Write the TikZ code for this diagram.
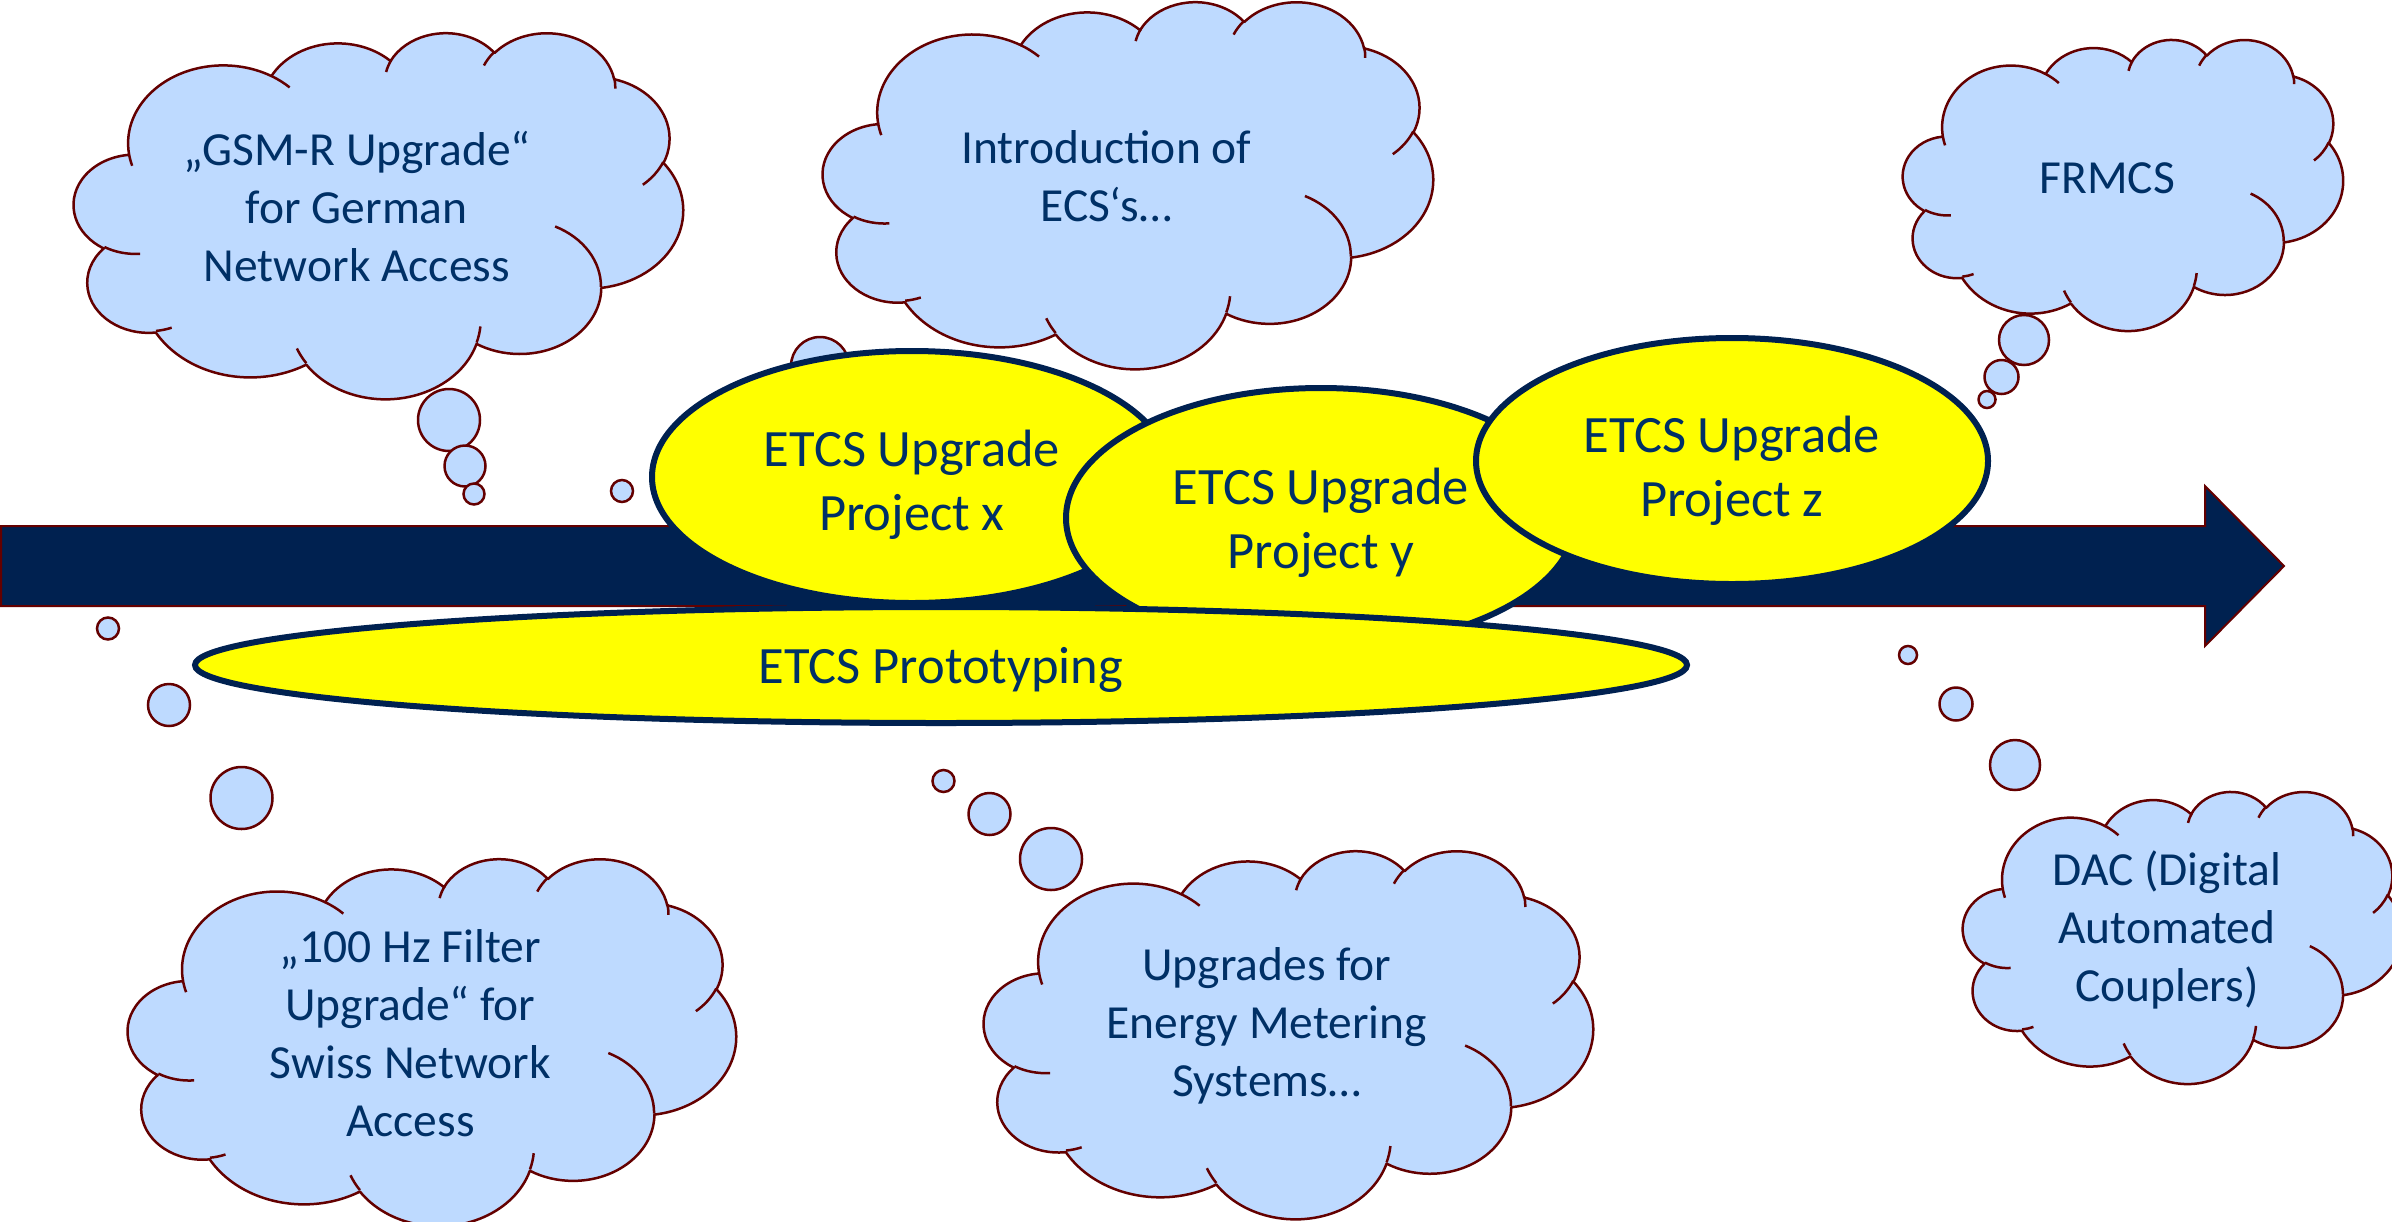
\documentclass[tikz,border=0pt]{standalone}
\usepackage{fontspec}
\setmainfont{Carlito}
\usetikzlibrary{shapes.geometric}
\definecolor{txtblue}{RGB}{0,48,102}
\definecolor{navy}{RGB}{0,33,80}
\definecolor{maroon}{RGB}{100,0,0}
\definecolor{cloudblue}{RGB}{190,218,255}
\definecolor{etcsyellow}{RGB}{255,255,0}

% PowerPoint cloud geometry (43200 units -> 43.2), visual angles converted to parametric
\newcommand\cloudpath{}
\newcommand\creasepath{}
\newcommand\myarccalc[4]{%
  \pgfmathsetmacro\myts{atan2((#1)*sin(#3),(#2)*cos(#3))}%
  \pgfmathsetmacro\myte{atan2((#1)*sin((#3)+(#4)),(#2)*cos((#3)+(#4)))}%
  \pgfmathsetmacro\mydd{\myte-\myts}%
  \pgfmathsetmacro\mydd{\mydd-360*round((\mydd-(#4))/360)}%
}
\newcommand\addarc[4]{%
  \myarccalc{#1}{#2}{#3}{#4}%
  \xdef\cloudpath{\cloudpath arc[x radius=#1,y radius=#2,start angle=\myts,delta angle=\mydd]}%
}
\newcommand\addcrease[6]{%
  \myarccalc{#3}{#4}{#5}{#6}%
  \xdef\creasepath{\creasepath (#1,#2) arc[x radius=#3,y radius=#4,start angle=\myts,delta angle=\mydd]}%
}
\addarc{6.753}{9.190}{-190.4875}{123.7805}
\addarc{5.333}{7.267}{-144.1024}{89.9452}
\addarc{4.365}{5.945}{-145.8079}{99.7230}
\addarc{4.857}{6.595}{-130.9861}{117.2417}
\addarc{5.333}{7.273}{-78.7089}{109.0269}
\addarc{6.775}{9.220}{-46.2673}{130.2690}
\addarc{5.785}{7.867}{0.6250}{114.0333}
\addarc{6.752}{9.215}{22.4516}{115.1726}
\addarc{7.720}{10.543}{66.2426}{75.7110}
\addarc{4.360}{5.918}{-274.9421}{146.7356}
\addarc{4.345}{5.945}{-246.8285}{152.5189}
\addcrease{4.693}{26.177}{4.345}{5.945}{86.7420}{26.4295}
\addcrease{6.928}{34.899}{4.360}{5.918}{73.6105}{11.4475}
\addcrease{16.478}{39.090}{6.752}{9.215}{137.6242}{14.0811}
\addcrease{28.827}{34.751}{6.752}{9.215}{6.4533}{15.9984}
\addcrease{34.129}{22.954}{5.785}{7.867}{-70.2924}{70.9174}
\addcrease{41.798}{15.354}{5.333}{7.273}{30.3180}{27.7515}
\addcrease{38.324}{5.426}{4.857}{6.595}{-13.7443}{14.8589}
\addcrease{29.078}{3.952}{4.857}{6.595}{-149.1815}{18.1954}
\addcrease{22.141}{4.720}{4.365}{5.945}{-163.4943}{17.6864}
\addcrease{14.000}{5.192}{6.753}{9.190}{-66.7070}{12.3194}
\addcrease{4.127}{15.789}{6.753}{9.190}{157.6544}{11.8582}

\newcommand\pcloud[6]{%
  \begin{scope}[shift={(#2,#3)}, xscale=#4/43.2, yscale=#5/43.2]
    \path[cloudshape] (3.900,14.370) \cloudpath -- cycle;
    \path[crease] \creasepath;
  \end{scope}
  \node[cloudtext] (#1) at ({#2+0.4644*#4},{#3+0.4768*#5}) {#6};
}

\begin{document}
\begin{tikzpicture}[x=1pt,y=1pt,yscale=-1,
  cloudshape/.style={fill=cloudblue, draw=maroon, line width=2.5pt, line join=round},
  crease/.style={draw=maroon, line width=2.5pt},
  bubble/.style={fill=cloudblue, draw=maroon, line width=2.5pt},
  cloudtext/.style={text=txtblue, align=center, inner sep=0pt, font=\fontsize{47.5}{58}\selectfont},
  etcs/.style={ellipse, draw=navy, line width=6pt, fill=etcsyellow, inner sep=0pt},
  etcstext/.style={text=txtblue, align=center, inner sep=0pt, font=\fontsize{52.5}{64}\selectfont},
  timeline/.style={fill=navy, draw=maroon, line width=2pt, line join=miter}]
\useasboundingbox (0,0) rectangle (2392,1221);
\fill[white] (0,0) rectangle (2392,1221);
\clip (0,0) rectangle (2392,1221);

% time arrow
\path[timeline] (1,526) -- (2205,526) -- (2205,486) -- (2284,566) -- (2205,646) -- (2205,606) -- (1,606) -- cycle;

% clouds
\pcloud{gsm}{74}{32}{609}{366}{„GSM-R Upgrade“\\for German\\Network Access}
\pcloud{ecs}{823}{1}{610}{367}{Introduction of\\ECS‘s…}
\pcloud{frmcs}{1903}{39}{440}{291}{FRMCS}
\pcloud{swiss}{128}{858}{608}{367}{„100 Hz Filter\\Upgrade“ for\\Swiss Network\\Access}
\pcloud{energy}{984}{850}{609}{368}{Upgrades for\\Energy Metering\\Systems…}
\pcloud{dac}{1963}{791}{439}{292}{DAC (Digital\\Automated\\Couplers)}

% thought bubbles
\draw[bubble] (449,420) circle[radius=31];
\draw[bubble] (465,466) circle[radius=20.5];
\draw[bubble] (474,494) circle[radius=10.5];
\draw[bubble] (820,366) circle[radius=29];
\draw[bubble] (622,491) circle[radius=11];
\draw[bubble] (2024,340) circle[radius=25];
\draw[bubble] (2001.5,377) circle[radius=17];
\draw[bubble] (1987,399.5) circle[radius=8.5];
\draw[bubble] (1908,655) circle[radius=9];
\draw[bubble] (1956,704) circle[radius=16.5];
\draw[bubble] (2015,765) circle[radius=25];
\draw[bubble] (108,628.5) circle[radius=11];
\draw[bubble] (169,705) circle[radius=21];
\draw[bubble] (241.5,798) circle[radius=31];
\draw[bubble] (943.5,781) circle[radius=11];
\draw[bubble] (989.5,814) circle[radius=21];
\draw[bubble] (1051,859) circle[radius=31];

% ETCS projects
\node[etcs, minimum width=520pt, minimum height=252pt] (px) at (912,477) {};
\node[etcstext] (pxt) at (912,485) {ETCS Upgrade\\Project x};
\node[etcs, minimum width=510pt, minimum height=260pt] (py) at (1321,518) {};
\node[etcstext] (pyt) at (1321,523) {ETCS Upgrade\\Project y};
\node[etcs, minimum width=512pt, minimum height=246pt] (pz) at (1732,461) {};
\node[etcstext] (pzt) at (1732,471) {ETCS Upgrade\\Project z};
\node[etcs, minimum width=1492pt, minimum height=116pt] (proto) at (941,665) {};
\node[etcstext] (protot) at (941,670) {ETCS Prototyping};
\end{tikzpicture}
\end{document}
